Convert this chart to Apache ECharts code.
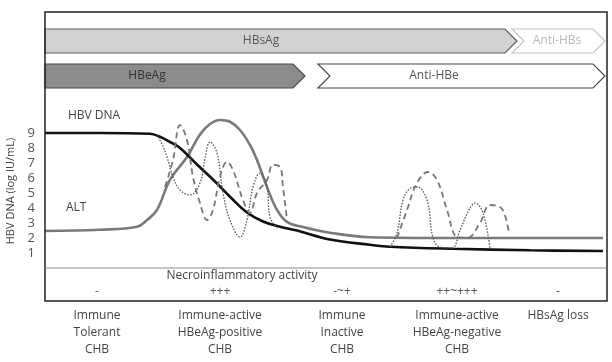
<!DOCTYPE html>
<html>
<head>
<meta charset="utf-8">
<script src="https://cdn.jsdelivr.net/npm/echarts@6/dist/echarts.min.js"></script>
<style>
html,body{margin:0;padding:0;background:#fff;}
#c{width:612px;height:362px;}
</style>
</head>
<body>
<div id="c"></div>
<script>
// ---- data (x = timeline position, y = log IU/mL scale) ----
const yTicks = [1,2,3,4,5,6,7,8,9];

const dnaX = [0,55,105,115,125,135,152,168,185,202,218,235,252,285,325,345,408,485,558];
const dnaY = [9,9,8.95,8.75,8.4,8.0,6.9,5.9,4.75,3.7,3.1,2.75,2.5,1.9,1.55,1.42,1.28,1.18,1.13];

const altX = [0,55,92,102,112,125,142,155,165,175,185,195,205,212,222,232,242,258,285,325,405,558];
const altY = [2.47,2.55,2.75,3.2,3.87,5.87,7.4,8.9,9.6,9.87,9.75,9.2,8.2,7.2,5.4,3.87,3.07,2.73,2.35,2.05,2.0,2.0];

const dnaFlucX1 = [112,118,122,128,135,145,155,160,165,172,178,185,195,202,208,215,222,225,232];
const dnaFlucY1 = [8.9,8.1,7.4,6.07,5.2,4.87,5.67,7.3,8.4,7.67,5.0,3.2,2.07,3.2,5.4,6.33,5.4,3.4,2.67];
const dnaFlucX2 = [345,352,358,365,372,382,388,395,407,415,425,430,438,445];
const dnaFlucY2 = [1.4,2.33,4.53,5.3,5.4,4.53,2.0,1.4,1.33,2.53,4.0,4.33,3.67,1.33];

const altFlucX1 = [120,128,135,142,148,155,162,168,175,182,188,198,205,212,222,228,235,238,242];
const altFlucY1 = [5.4,7.2,9.53,8.53,6.07,4.33,3.2,3.87,6.07,7.07,6.53,4.53,3.67,5.0,5.87,6.87,6.73,5.4,3.2];
const altFlucX2 = [352,362,372,383,392,402,412,422,435,445,455,460,464];
const altFlucY2 = [2.0,3.87,5.67,6.4,5.87,3.87,2.07,2.0,3.0,4.2,4.07,3.5,2.33];

// serological marker bands: [start, end(tip), row, label position]
const bandNames = ['HBsAg','Anti-HBs','HBeAg','Anti-HBe'];
const bandStart = [0,467,0,273];
const bandEnd   = [472,560,260,560];
const bandRow   = [0,0,1,1];
const bandLabelAt = [216,512,102,389];

const activityTitle = 'Necroinflammatory activity';
const phaseNames = ['Immune\nTolerant\nCHB','Immune-active\nHBeAg-positive\nCHB','Immune\nInactive\nCHB','Immune-active\nHBeAg-negative\nCHB','HBsAg loss'];
const phaseActivity = ['-','+++','-~+','++~+++','-'];
const phaseAt = [52,175,297,412,513];

// ---- build ----
function pairs(xs, ys){ return xs.map((x,i)=>[x, ys[i]]); }
function joinSeg(a, b){ return a.concat([[null,null]], b); }

const FONT = '"Open Sans", "Noto Sans", sans-serif';
const bandStyle = [
  {fill:'#d2d2d2', stroke:'#5a5a5a', text:'#555'},
  {fill:'#ffffff', stroke:'#c4c4c4', text:'#b8b8b8'},
  {fill:'#8c8c8c', stroke:'#4a4a4a', text:'#333'},
  {fill:'#ffffff', stroke:'#4a4a4a', text:'#555'}
];
const rowTop = [29, 64];
const rowH = 24, notch = 12;

const chart = echarts.init(document.getElementById('c'), null, {renderer:'canvas'});

const bandData = bandNames.map((n,i)=>[bandStart[i], bandEnd[i], bandRow[i], bandLabelAt[i], i]);

const option = {
  animation:false,
  grid:{left:45, right:5, top:13, bottom:94},
  xAxis:{type:'value', min:0, max:562, show:false},
  yAxis:{type:'value', min:0, max:17, interval:1,
    axisLine:{show:false}, axisTick:{show:false}, splitLine:{show:false},
    axisLabel:{margin:10, fontFamily:FONT, fontSize:13, color:'#555',
      formatter:v=> yTicks.indexOf(v)>=0 ? String(v) : ''}
  },
  series:[
    {type:'custom', data:bandData, encode:{x:[0,1]}, z:3,
     renderItem:function(params, api){
       const i = api.value(4);
       const s = api.value(0), e = api.value(1), r = api.value(2), la = api.value(3);
       const x0 = api.coord([s,0])[0], x1 = api.coord([e,0])[0];
       const top = rowTop[r], mid = top + rowH/2, bot = top + rowH;
       let pts;
       if (s > 0) pts = [[x0,top],[x1-notch,top],[x1,mid],[x1-notch,bot],[x0,bot],[x0+notch,mid]];
       else pts = [[x0,top],[x1-notch,top],[x1,mid],[x1-notch,bot],[x0,bot]];
       const st = bandStyle[i];
       return {type:'group', children:[
         {type:'polygon', shape:{points:pts}, style:{fill:st.fill, stroke:st.stroke, lineWidth:1.2}},
         {type:'text', style:{text:bandNames[i], x:api.coord([la,0])[0], y:mid, align:'center', verticalAlign:'middle',
           fill:st.text, font:'12px '+FONT}}
       ]};
     }},
    {type:'line', data:pairs(altX, altY), smooth:0.4, showSymbol:false, z:4,
     lineStyle:{color:'#7a7a7a', width:2.6}},
    {type:'line', data:pairs(dnaX, dnaY), smooth:0.4, showSymbol:false, z:5,
     lineStyle:{color:'#111', width:2.6}},
    {type:'line', data:joinSeg(pairs(dnaFlucX1,dnaFlucY1), pairs(dnaFlucX2,dnaFlucY2)), smooth:0.4, showSymbol:false, connectNulls:false, z:6,
     lineStyle:{color:'#555', width:1.3, type:[1.5,1.5]}},
    {type:'line', data:joinSeg(pairs(altFlucX1,altFlucY1), pairs(altFlucX2,altFlucY2)), smooth:0.4, showSymbol:false, connectNulls:false, z:6,
     lineStyle:{color:'#777', width:1.8, type:[6,4]}}
  ],
  graphic:[]
};
chart.setOption(option);

// frame + texts positioned via the chart's own scale
const gx = v => chart.convertToPixel({gridIndex:0}, [v,0])[0];
const L = gx(0), R = gx(562);
const g = [
  {type:'rect', shape:{x:L, y:12, width:R-L, height:289}, style:{fill:'none', stroke:'#222', lineWidth:1.5}, z:10},
  {type:'line', shape:{x1:L, y1:268, x2:R, y2:268}, style:{stroke:'#888', lineWidth:1}, z:10},
  {type:'text', style:{text:'HBV DNA', x:68, y:116, verticalAlign:'middle', fill:'#444', font:'12px '+FONT}, z:10},
  {type:'text', style:{text:'ALT', x:66, y:208, verticalAlign:'middle', fill:'#444', font:'12px '+FONT}, z:10},
  {type:'text', rotation:Math.PI/2, x:11, y:191, style:{text:'HBV DNA (log IU/mL)', x:0, y:0, align:'center', verticalAlign:'middle', fill:'#444', font:'11px '+FONT}, z:10},
  {type:'text', style:{text:activityTitle, x:242, y:276, align:'center', verticalAlign:'middle', fill:'#444', font:'12px '+FONT}, z:10}
];
phaseNames.forEach((n,i)=>{
  const px = gx(phaseAt[i]);
  g.push({type:'text', style:{text:phaseActivity[i], x:px, y:292, align:'center', verticalAlign:'middle', fill:'#555', font:'12px '+FONT}, z:10});
  g.push({type:'text', style:{text:n, x:px, y:307, align:'center', verticalAlign:'top', lineHeight:17, fill:'#444', font:'12px '+FONT}, z:10});
});
chart.setOption({graphic:g});
</script>
</body>
</html>
